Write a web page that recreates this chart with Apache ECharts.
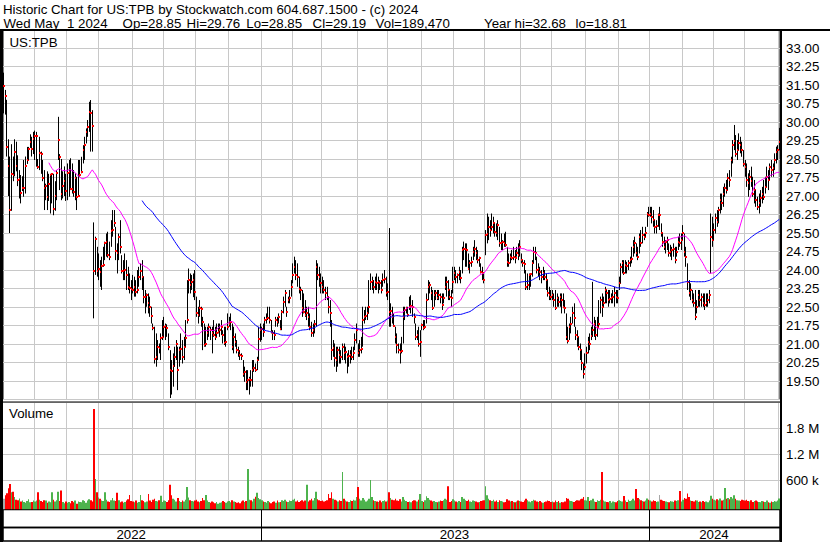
<!DOCTYPE html>
<html><head><meta charset="utf-8">
<script src="https://cdn.jsdelivr.net/npm/echarts@6/dist/echarts.min.js"></script>
<style>html,body{margin:0;padding:0;background:#fff}#c{width:830px;height:543px}</style>
</head><body><div id="c"></div>
<script>
// ---------- texts ----------
const titleLine1 = 'Historic Chart for US:TPB by Stockwatch.com 604.687.1500 - (c) 2024';
// second header line: its fields, as printed in fixed columns
const titleLine2Parts = ['Wed May', '1 2024', 'Op=28.85', 'Hi=29.76', 'Lo=28.85', 'Cl=29.19', 'Vol=189,470', 'Year hi=32.68', 'lo=18.81'];
const titleLine2Cols = [3.5, 66.9, 122.6, 186.6, 246.3, 312.6, 375.6, 484, 575.6];
const symbolLabel = 'US:TPB';
const volumeLabel = 'Volume';

// ---------- trading calendar ----------
const firstDay = [2022, 4, 3];   // 2022-05-03
const lastDay = [2024, 4, 1];    // 2024-05-01
const marketClosed = ['2022-05-30','2022-06-20','2022-07-04','2022-09-05','2022-11-24','2022-12-26',
  '2023-01-02','2023-01-16','2023-02-20','2023-04-07','2023-05-29','2023-06-19','2023-07-04','2023-09-04',
  '2023-11-23','2023-12-25','2024-01-01','2024-01-15','2024-02-19','2024-03-29'];
const missingBars = ['2022-08-19','2022-09-23'];

// ---------- daily prices ----------
const closes = [
31.47,31.05,29.00,28.23,26.45,27.90,27.87,28.79,28.23,27.65,27.70,27.13,27.32,27.33,28.21,28.46,28.92,29.20,28.90,29.30,
29.43,29.44,28.16,28.75,28.70,27.75,27.32,27.40,26.94,27.50,27.85,27.88,26.47,27.00,27.92,29.27,28.60,27.08,27.40,27.60,27.20,
27.94,27.98,27.30,27.27,27.15,27.75,26.97,26.99,27.85,27.98,28.86,29.06,29.60,29.81,30.40,30.35,29.83,23.97,25.25,23.97,
24.05,23.93,24.17,24.21,25.08,25.12,24.60,24.54,25.59,25.63,25.89,24.78,24.67,25.35,24.94,23.96,23.97,23.99,23.79,23.32,23.28,23.21,
23.19,23.32,23.12,23.19,23.73,23.97,23.73,22.89,22.92,22.98,22.65,22.51,22.13,21.66,20.39,20.48,20.89,20.85,21.23,21.27,
21.70,21.74,21.66,20.89,19.94,19.90,20.10,20.48,21.02,19.94,20.75,20.80,20.48,20.89,21.23,21.97,23.59,23.38,23.52,23.59,23.12,
22.24,22.17,22.44,22.40,21.90,20.96,21.02,21.43,21.70,21.56,21.43,21.36,21.29,21.43,21.50,21.56,21.70,21.36,21.05,21.09,21.70,
21.83,21.90,20.89,21.30,21.09,20.75,20.71,20.55,20.52,19.80,19.87,19.47,19.54,19.60,19.56,19.94,20.01,19.94,20.35,21.20,21.56,
21.60,21.50,21.97,22.00,22.04,21.97,21.50,21.43,21.35,21.97,21.90,22.10,21.59,22.30,22.71,23.06,22.28,22.78,22.85,23.32,
23.79,24.13,23.79,23.73,23.25,23.19,22.44,22.31,22.17,22.24,22.10,21.70,21.43,21.56,21.83,24.13,23.79,23.73,23.46,
23.32,23.19,23.06,22.92,22.51,22.24,20.75,20.82,20.42,20.35,20.75,20.55,20.48,20.89,20.62,20.66,20.48,20.52,20.55,20.48,20.62,21.18,21.56,
20.62,20.75,20.80,21.97,22.10,22.14,22.24,22.51,23.52,23.55,23.32,23.52,23.46,23.52,23.46,23.19,23.59,23.62,23.06,
23.10,22.31,22.35,22.10,21.73,21.29,20.96,20.75,20.69,20.72,22.10,22.38,22.44,22.17,22.51,22.55,22.48,22.10,21.29,21.36,21.02,21.10,
21.77,21.63,21.70,22.78,23.32,23.39,23.06,22.44,22.98,23.06,22.85,22.98,22.92,22.58,22.85,23.32,23.52,23.19,22.92,22.88,23.52,
23.86,23.73,23.79,23.93,23.66,24.80,24.85,24.87,24.81,24.06,24.27,24.33,24.74,24.87,24.67,24.40,24.47,23.93,23.86,23.59,
25.42,25.45,25.75,25.62,25.75,25.89,25.55,25.48,25.82,25.08,25.11,25.15,25.08,25.02,24.33,24.27,24.54,24.47,24.54,24.47,24.67,24.62,24.94,
24.40,24.27,24.24,23.32,23.39,23.79,23.82,24.27,24.74,24.70,24.00,24.04,23.93,23.73,23.86,23.73,23.59,23.06,22.98,22.92,
23.00,22.78,22.44,22.85,22.71,22.92,22.78,22.51,22.44,21.29,21.13,21.70,21.83,22.24,22.04,21.36,21.29,20.89,20.75,20.21,19.80,20.08,
20.62,21.09,21.02,21.32,21.56,21.83,21.36,21.70,21.83,22.78,22.51,22.65,23.19,23.05,22.78,22.82,22.85,22.92,23.05,22.92,22.88,
23.46,24.13,24.27,23.86,24.20,24.16,24.27,24.40,24.44,24.94,25.08,24.67,24.54,25.35,25.08,25.42,25.35,25.48,26.29,26.25,
26.29,26.16,26.02,25.75,25.79,26.22,26.22,25.48,25.15,24.94,25.15,25.21,24.67,24.71,24.81,24.85,24.40,24.74,25.15,25.08,25.21,
25.48,24.74,24.54,23.52,23.05,23.19,22.78,22.65,22.10,22.51,22.98,22.78,22.92,22.65,22.58,22.65,22.78,22.98,25.35,25.21,
25.62,26.10,25.95,26.43,26.84,26.70,27.10,27.32,27.24,27.73,27.65,28.46,29.07,29.24,28.70,28.86,29.15,29.06,28.86,28.30,
28.19,27.65,27.51,27.78,27.62,27.10,27.24,26.84,26.57,26.70,26.90,27.10,26.97,27.37,27.78,27.65,28.19,28.05,28.12,28.46,28.80,28.85,29.19
];
const highs = [
32.00,31.30,30.90,29.30,28.60,29.10,28.60,29.30,29.20,28.65,28.05,27.85,27.80,28.46,28.60,28.99,28.99,29.50,29.40,29.60,
29.65,29.60,28.50,29.40,28.80,28.46,28.05,27.50,28.00,27.90,27.90,27.90,27.90,27.60,28.05,30.21,28.70,28.50,28.00,28.20,27.90,
28.32,28.46,28.53,28.32,28.05,27.92,27.78,28.46,28.46,28.59,29.06,29.40,29.74,30.08,30.82,30.89,30.48,25.93,25.35,24.94,
24.67,24.40,24.54,24.94,25.15,25.48,25.55,25.15,26.02,26.43,26.43,25.75,25.08,25.48,26.02,24.60,24.40,24.67,24.40,24.13,23.86,23.59,
23.80,23.73,23.59,24.00,24.13,24.27,24.40,23.73,23.19,23.05,23.05,22.92,22.51,21.83,21.70,21.43,21.16,21.02,21.43,21.97,
22.10,21.83,21.80,21.43,20.75,20.35,20.62,20.89,21.16,20.89,20.89,21.43,21.16,21.29,21.97,23.59,24.06,23.86,23.80,23.86,24.00,
22.92,22.51,22.78,22.51,22.10,21.83,21.70,21.70,21.83,21.70,21.70,21.97,21.70,21.83,21.83,21.83,21.97,21.56,21.70,21.70,22.24,
22.10,22.24,21.83,21.70,21.43,21.16,20.89,20.75,20.62,20.35,20.08,19.94,19.94,19.67,19.94,20.35,20.35,20.21,20.48,21.70,21.83,
21.70,21.83,22.10,22.24,22.51,22.51,21.97,21.56,21.56,22.10,22.10,22.24,21.97,22.38,22.92,23.19,22.51,22.92,23.19,23.59,
24.27,24.54,24.40,24.27,23.73,23.32,23.19,23.05,22.78,22.51,22.51,22.24,21.90,21.83,21.97,24.40,24.27,24.13,23.86,
23.73,23.59,23.32,23.32,22.92,22.78,21.97,21.16,21.02,20.89,20.89,20.89,20.75,21.02,21.02,20.89,20.62,20.75,20.75,20.89,20.89,21.43,21.83,
21.02,21.16,21.29,22.51,22.38,22.51,22.51,23.59,23.86,23.73,23.59,23.73,23.86,23.73,23.59,23.59,23.86,24.00,23.73,
23.46,25.70,22.65,22.51,22.24,21.70,21.43,21.02,21.02,21.29,22.51,22.51,22.51,22.51,22.92,22.98,22.78,22.24,21.83,21.56,21.70,21.56,
21.83,21.97,21.97,23.05,23.59,23.52,23.32,23.19,23.19,23.19,23.19,23.19,23.05,23.05,23.05,23.73,23.73,23.59,23.19,23.19,24.13,
24.13,24.00,23.86,24.13,24.00,24.94,25.15,25.08,25.08,24.67,24.40,24.54,24.94,25.21,24.94,24.81,24.54,24.27,24.13,23.86,
25.62,26.29,26.16,26.02,26.29,26.16,25.89,25.89,26.02,25.75,25.48,25.21,25.48,25.55,24.94,24.67,24.67,24.81,24.94,24.81,24.94,25.08,25.21,
24.67,24.40,24.40,24.00,23.86,23.86,23.86,24.40,24.94,24.94,24.54,24.27,24.13,24.00,24.13,24.00,23.86,23.59,23.32,23.19,
23.19,23.05,23.19,23.05,22.92,23.05,23.05,23.05,22.78,22.24,21.70,21.83,22.10,22.51,22.65,21.70,21.56,21.29,21.02,20.75,20.21,20.62,
20.89,21.29,21.43,21.70,23.52,22.10,21.97,22.10,22.78,22.92,23.05,22.92,23.32,23.19,23.19,23.19,23.05,23.19,23.32,23.19,23.19,
23.73,24.27,24.40,24.40,24.40,24.33,24.40,24.54,24.94,25.21,25.35,25.08,24.94,25.48,25.62,25.75,25.48,25.75,26.35,26.56,
26.56,26.56,26.43,26.02,26.02,26.29,26.56,25.89,25.48,25.35,25.21,25.35,25.08,25.02,24.94,25.08,24.94,24.94,25.35,25.48,25.48,
25.82,25.48,24.94,24.27,23.59,23.46,23.19,23.05,23.19,22.78,23.19,23.19,23.05,23.05,23.05,23.05,23.05,23.19,26.29,26.16,
25.89,26.29,26.43,26.56,27.10,27.10,27.37,27.51,27.65,27.92,28.05,28.59,29.27,29.88,29.47,29.27,29.54,29.40,29.20,28.86,
28.46,28.32,27.92,28.05,28.19,27.78,27.65,27.24,26.97,27.10,27.24,27.37,27.65,27.78,28.19,28.05,28.32,28.46,28.32,28.73,29.00,29.06,29.76
];
const lows = [
30.35,30.30,28.60,27.00,25.50,26.40,27.60,27.80,28.00,27.40,26.90,26.70,27.20,26.97,27.10,28.30,28.46,28.95,28.60,28.70,
28.46,28.19,28.10,28.05,27.90,27.60,26.43,26.83,26.43,26.80,26.29,26.70,26.22,26.40,26.83,28.46,27.24,26.83,26.90,27.00,26.80,
26.83,26.97,27.24,27.10,26.97,26.83,26.43,26.97,27.78,27.92,28.32,28.46,29.13,29.40,29.60,28.80,28.80,22.04,23.80,23.73,
23.59,23.32,23.19,24.13,24.40,24.54,24.50,24.40,24.94,25.35,25.75,24.40,23.86,24.40,24.67,23.86,23.59,23.59,23.19,23.19,23.05,22.78,
23.05,22.92,22.92,23.05,23.32,23.59,23.19,22.65,22.24,22.51,22.24,22.10,21.83,21.56,20.21,20.08,20.35,20.62,20.35,21.16,
21.29,21.16,21.29,20.75,18.81,18.95,19.27,20.08,20.35,19.13,20.08,20.35,20.21,20.35,20.89,21.83,23.05,23.05,23.19,22.90,22.78,
22.10,21.83,22.10,21.70,20.75,20.89,20.89,21.16,21.29,21.16,20.62,21.29,21.16,21.29,21.43,21.29,21.36,21.02,20.96,20.89,21.56,
21.70,21.56,20.75,20.62,20.89,20.62,20.48,20.35,20.35,19.67,19.47,19.13,19.13,18.95,19.27,19.27,19.87,19.87,19.94,20.35,21.09,
21.16,21.29,21.56,21.83,21.97,21.83,21.43,21.16,21.16,21.70,21.70,21.83,21.56,21.56,22.24,22.51,22.10,22.65,22.65,22.92,
23.46,23.86,23.59,23.32,23.05,22.78,22.10,22.24,22.10,21.97,21.70,21.56,21.29,21.29,21.43,21.70,23.59,23.32,23.05,
23.05,23.05,22.78,22.78,22.24,21.70,20.35,20.48,20.08,19.87,20.08,20.21,20.21,20.35,20.35,20.21,19.81,20.08,20.21,20.35,20.35,20.75,21.02,
20.48,20.48,20.62,20.89,21.83,21.97,21.97,22.24,23.19,23.19,23.05,23.19,23.19,23.05,23.19,23.05,23.32,23.46,22.92,
22.78,21.70,21.70,21.83,21.70,21.02,20.62,20.62,20.21,20.62,21.02,21.97,22.24,22.10,22.38,22.24,22.10,21.83,21.16,21.16,20.89,20.48,
21.56,21.56,21.63,21.83,22.78,23.05,22.78,22.38,22.51,22.78,22.78,22.78,22.65,22.38,22.65,23.19,22.92,22.78,22.78,22.51,23.05,
23.59,23.46,23.46,23.59,23.46,23.86,24.40,24.13,24.13,24.00,23.86,24.13,24.40,24.54,24.40,24.27,24.13,23.86,23.59,23.46,
24.60,25.08,25.21,25.35,25.62,25.48,25.35,25.35,25.21,24.94,24.81,24.81,24.94,24.94,24.13,24.13,24.27,24.40,24.40,24.27,24.54,24.40,24.54,
24.27,24.13,23.86,23.19,23.19,23.19,23.32,23.73,24.27,24.40,23.86,23.73,23.59,23.46,23.59,23.59,23.19,22.92,22.78,22.78,
22.78,22.51,22.38,22.51,22.51,22.51,22.24,22.45,22.24,21.16,21.02,21.16,21.43,21.83,21.70,21.16,20.89,20.75,20.35,19.94,19.60,19.94,
20.21,20.62,20.75,21.16,21.29,21.29,21.16,21.29,21.70,22.24,22.10,22.51,22.65,22.65,22.51,22.65,22.65,22.65,22.51,22.65,22.65,
23.19,23.46,23.86,23.80,23.86,23.86,24.00,24.13,24.27,24.54,24.67,24.54,24.40,24.67,24.94,25.08,25.21,25.35,25.75,26.16,
26.16,25.89,25.75,25.48,25.48,25.75,25.62,25.35,24.94,24.81,24.67,24.81,24.54,24.54,24.40,24.54,24.27,24.54,24.81,24.94,24.81,
25.21,24.54,24.13,23.19,22.92,22.78,22.65,22.51,21.97,22.24,22.51,22.51,22.51,22.51,22.38,22.51,22.51,22.65,23.86,24.94,
25.21,25.48,25.75,25.89,26.29,26.43,26.56,26.97,27.10,27.24,27.37,27.78,28.32,28.86,28.59,28.46,28.86,28.73,28.59,28.19,
27.78,27.37,26.97,27.24,27.37,26.97,26.70,26.56,26.43,26.29,26.56,26.70,26.84,27.10,27.37,27.24,27.65,27.78,27.78,28.05,28.32,28.46,28.85
];
// daily volume, thousands of shares
const volumesK = [
180,260,310,420,520,330,340,220,160,150,190,120,140,110,90,130,170,100,110,140,
120,140,330,160,130,110,150,140,90,120,100,330,160,120,150,340,130,370,110,80,120,
90,110,80,130,100,140,70,120,110,100,150,130,90,140,170,150,120,2240,635,330,
210,180,140,130,330,160,120,110,150,200,140,130,320,150,100,120,90,110,140,170,270,130,
120,100,140,90,110,270,150,130,100,120,290,140,110,160,180,130,120,150,250,110,
140,130,110,150,500,260,180,160,120,200,130,110,140,120,160,450,210,150,130,120,140,
160,120,100,130,200,150,270,140,110,90,120,100,80,110,70,90,100,130,110,90,120,
130,100,150,120,110,90,100,80,120,140,110,130,865,160,150,120,180,230,320,200,170,
150,120,110,90,130,100,80,110,120,90,140,100,110,150,130,160,120,110,140,130,
160,180,120,140,110,130,150,120,140,500,120,150,180,140,200,340,170,150,130,
140,120,130,150,290,200,330,180,160,140,120,150,130,795,180,140,120,110,150,130,160,140,220,
450,180,140,200,160,120,140,180,610,220,150,130,120,110,140,100,130,150,120,
140,330,200,160,150,180,140,130,170,120,220,160,130,110,120,100,130,150,140,120,160,290,
130,110,150,240,200,160,140,120,130,110,100,120,140,130,150,180,160,470,110,130,170,
140,120,100,130,110,220,180,150,130,160,120,110,140,130,120,100,110,130,140,150,
470,260,180,150,130,160,120,140,110,150,130,120,100,110,170,140,120,130,110,100,120,140,130,
120,110,140,180,150,120,100,130,160,140,120,110,130,100,90,110,120,140,130,110,
120,100,140,110,130,90,110,100,120,200,180,140,130,120,110,130,150,140,170,180,220,150,
140,225,130,150,180,120,110,150,130,160,795,140,120,110,100,130,90,120,110,100,130,
150,130,120,245,140,110,160,130,150,180,140,405,200,170,150,130,120,140,190,160,
140,120,150,130,110,120,270,160,140,130,120,110,100,130,120,110,140,130,150,360,120,
160,200,180,300,220,140,130,120,150,140,110,120,100,130,110,120,100,140,250,180,
160,140,170,150,190,140,160,430,180,200,170,220,190,260,180,150,140,130,160,150,
140,160,130,120,150,110,130,140,120,110,100,130,120,110,140,100,90,120,110,130,120,140,189.47
];
const maShortDays = 30;
const maLongDays = 90;
const priceMin = 18.75, priceMax = 33.75, priceStep = 0.75;
const volMin = 0, volMax = 2400000, volStep = 600000;

// ---------- build ----------
const dates = [];
(function(){
  const d = new Date(Date.UTC(firstDay[0], firstDay[1], firstDay[2]));
  const end = Date.UTC(lastDay[0], lastDay[1], lastDay[2]);
  while (d.getTime() <= end) {
    const wd = d.getUTCDay();
    const s = d.toISOString().slice(0, 10);
    if (wd !== 0 && wd !== 6 && marketClosed.indexOf(s) < 0 && missingBars.indexOf(s) < 0) dates.push(s);
    d.setUTCDate(d.getUTCDate() + 1);
  }
})();
const N = Math.min(dates.length, closes.length, highs.length, lows.length, volumesK.length);
const cats = dates.slice(0, N);
function sma(arr, n) {
  const out = [];
  for (let i = 0; i < N; i++) {
    if (i < n - 1) { out.push(null); continue; }
    let s = 0; for (let k = i - n + 1; k <= i; k++) s += arr[k];
    out.push(+(s / n).toFixed(3));
  }
  return out;
}
const maShort = sma(closes, maShortDays);
const maLong = sma(closes, maLongDays);
const volColors = [];
for (let i = 0; i < N; i++) {
  const prev = i > 0 ? closes[i - 1] : closes[i];
  volColors.push(closes[i] > prev ? '#4db34d' : (closes[i] < prev ? '#ff0000' : '#a8a8a8'));
}
const monthStart = (i) => i > 0 && cats[i].slice(0, 7) !== cats[i - 1].slice(0, 7);
const yearStart = (i) => i > 0 && cats[i].slice(0, 4) !== cats[i - 1].slice(0, 4);
const yb = [0]; for (let i = 1; i < N; i++) if (yearStart(i)) yb.push(i); yb.push(N);
const yearLabelIdx = {};
for (let k = 0; k < yb.length - 1; k++) yearLabelIdx[Math.floor((yb[k] + yb[k + 1]) / 2) - 1] = true;

const FONT = 'Liberation Sans';
const FS = 13.3;
const CSSFONT = FS + 'px "' + FONT + '"';
const GRAY = '#c8c8c8';
const L = 3, W = 777;

function xAxisFor(gi, extra) {
  return Object.assign({
    type: 'category', gridIndex: gi, data: cats, boundaryGap: true,
    axisLine: { show: false }, axisTick: { show: false }, axisLabel: { show: false },
    splitLine: { show: true, interval: (i) => monthStart(i), lineStyle: { color: GRAY, width: 1 } }
  }, extra || {});
}
const labelStyle = { fontFamily: FONT, fontSize: FS, color: '#000' };
function txt(text, x, y) {
  return { type: 'text', z: 100, x: x, y: y, style: { text: text, font: CSSFONT, fill: '#000', verticalAlign: 'middle', textVerticalAlign: 'middle' } };
}

const graphics = [
  { type: 'rect', z: 100, shape: { x: 0, y: 29, width: 830, height: 2 }, style: { fill: '#000' } },
  { type: 'rect', z: 100, shape: { x: 0, y: 29, width: 3, height: 513 }, style: { fill: '#000' } },
  { type: 'rect', z: 100, shape: { x: 780, y: 29, width: 2, height: 513 }, style: { fill: '#000' } },
  { type: 'rect', z: 100, shape: { x: 0, y: 401.4, width: 781, height: 1 }, style: { fill: '#000' } },
  txt(titleLine1, 3, 9),
  txt(symbolLabel, 9.5, 42.3),
  txt(volumeLabel, 9, 413.5)
];
titleLine2Parts.forEach((p, k) => graphics.push(txt(p, titleLine2Cols[k], 23.3)));

const option = {
  animation: false,
  backgroundColor: '#fff',
  grid: [
    { left: L, width: W, top: 29.5, height: 370, show: true, borderColor: '#000', borderWidth: 1, backgroundColor: 'transparent', containLabel: false, outerBoundsMode: 'none' },
    { left: L, width: W, top: 401.9, height: 104.8, show: false, containLabel: false, outerBoundsMode: 'none' },
    { left: L, width: W, top: 509.5, height: 18, show: true, borderColor: '#000', borderWidth: 1.5, containLabel: false, outerBoundsMode: 'none' },
    { left: L, width: W, top: 527.5, height: 13.5, show: true, borderColor: '#000', borderWidth: 1.5, containLabel: false, outerBoundsMode: 'none' }
  ],
  xAxis: [
    xAxisFor(0),
    xAxisFor(1),
    xAxisFor(2, { splitLine: { show: true, interval: (i) => yearStart(i), lineStyle: { color: '#000', width: 1 } } }),
    xAxisFor(3, {
      position: 'top',
      splitLine: { show: true, interval: (i) => yearStart(i), lineStyle: { color: '#000', width: 1 } },
      axisLabel: Object.assign({ show: true, inside: true, margin: 7, verticalAlign: 'middle',
        interval: (i) => !!yearLabelIdx[i], formatter: (v) => v.slice(0, 4), hideOverlap: false }, labelStyle)
    })
  ],
  yAxis: [
    { type: 'value', gridIndex: 0, position: 'right', min: priceMin, max: priceMax, interval: priceStep,
      axisLine: { show: false }, axisTick: { show: false },
      axisLabel: Object.assign({ margin: 6, showMinLabel: false, showMaxLabel: false, formatter: (v) => v.toFixed(2) }, labelStyle),
      splitLine: { show: true, lineStyle: { color: GRAY, width: 1 } } },
    { type: 'value', gridIndex: 1, position: 'right', min: volMin, max: volMax, interval: volStep,
      axisLine: { show: false }, axisTick: { show: false },
      axisLabel: Object.assign({ margin: 6, showMinLabel: false, showMaxLabel: false,
        formatter: (v) => v < 1e6 ? Math.round(v / 1000) + ' k' : (v / 1e6).toFixed(1) + ' M' }, labelStyle),
      splitLine: { show: true, showMinLine: false, lineStyle: { color: GRAY, width: 1 } } },
    { type: 'value', gridIndex: 2, show: false, min: 0, max: 1 },
    { type: 'value', gridIndex: 3, show: false, min: 0, max: 1 }
  ],
  series: [
    {
      type: 'custom', name: 'price', xAxisIndex: 0, yAxisIndex: 0, z: 2,
      data: cats.map((d, i) => [i, highs[i], lows[i], closes[i]]),
      encode: { x: 0, y: [1, 2, 3] },
      renderItem: function (params, api) {
        const i = api.value(0);
        const pH = api.coord([i, api.value(1)]);
        const pL = api.coord([i, api.value(2)]);
        const pC = api.coord([i, api.value(3)]);
        const x = Math.floor(pH[0]) + 0.5;
        return { type: 'group', children: [
          { type: 'line', shape: { x1: x, y1: pH[1], x2: x, y2: pL[1] }, style: { stroke: '#000', lineWidth: 1 } },
          { type: 'rect', shape: { x: x - 0.5, y: Math.round(pC[1]) - 1, width: 2, height: 2 }, style: { fill: '#ff0000' } }
        ] };
      }
    },
    { type: 'line', name: 'ma30', xAxisIndex: 0, yAxisIndex: 0, data: maShort, showSymbol: false, symbol: 'none',
      lineStyle: { color: '#ff00ff', width: 1 }, z: 3, connectNulls: false },
    { type: 'line', name: 'ma90', xAxisIndex: 0, yAxisIndex: 0, data: maLong, showSymbol: false, symbol: 'none',
      lineStyle: { color: '#0000ff', width: 1 }, z: 3, connectNulls: false },
    {
      type: 'custom', name: 'volume', xAxisIndex: 1, yAxisIndex: 1, z: 2,
      data: cats.map((d, i) => [i, volumesK[i] * 1000]),
      encode: { x: 0, y: 1 },
      renderItem: function (params, api) {
        const i = api.value(0);
        const top = api.coord([i, api.value(1)]);
        const base = api.coord([i, 0]);
        const w = api.size([1, 0])[0];
        const left = Math.round(top[0] - w / 2), right = Math.round(top[0] + w / 2);
        return { type: 'rect', shape: { x: left, y: top[1], width: Math.max(1, right - left), height: base[1] + 2.6 - top[1] },
          style: { fill: volColors[params.dataIndex] } };
      }
    }
  ],
  graphic: { elements: graphics }
};
const chart = echarts.init(document.getElementById('c'), null, { renderer: 'svg', width: 830, height: 543 });
chart.setOption(option);
</script>
</body></html>
